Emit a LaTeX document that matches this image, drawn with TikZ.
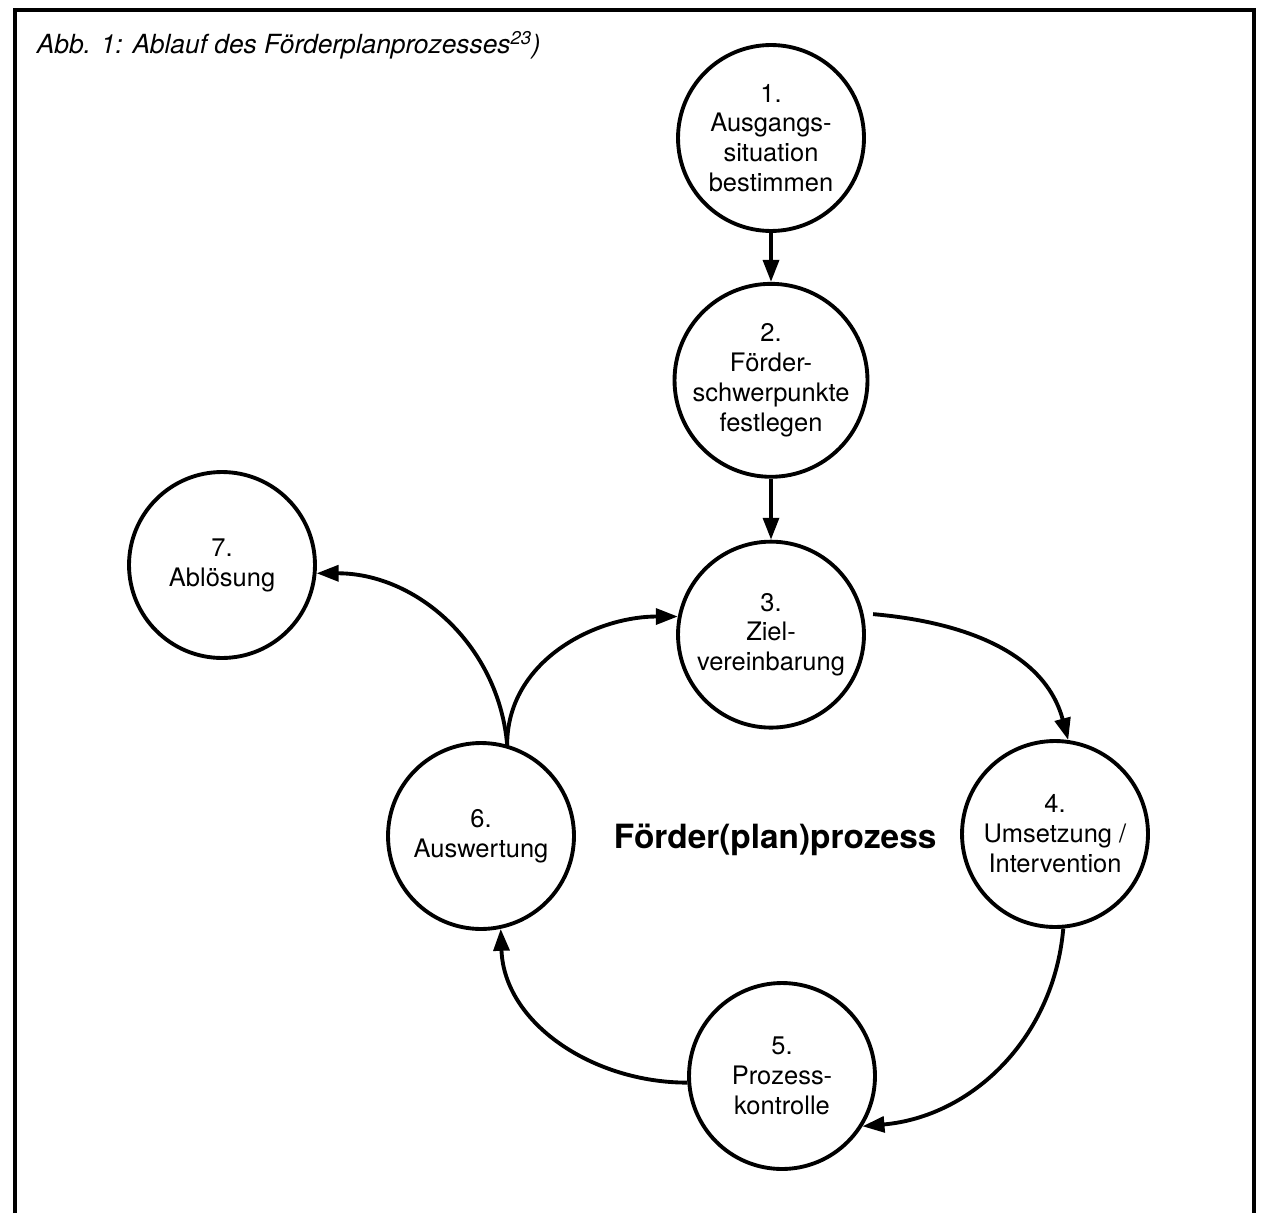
\documentclass[tikz,border=0pt]{standalone}
\usepackage{fontspec}
\setmainfont{TeX Gyre Heros}
\usepackage{tikz}
\usetikzlibrary{
    arrows.meta,
    positioning
}
\tikzset{
    flowtip /.tip = {Triangle[length=12.5pt, width=9pt]}
  }
\tikzset{
    stepcircle/.style = {circle, draw, line width=2.2pt,
      minimum size=3.72cm, inner sep=0pt, align=center,
      font=\fontsize{14.5pt}{17pt}\selectfont}
  }

\begin{document}
\begin{tikzpicture}[x=0.02cm, y=-0.02cm, line width=2.2pt, >=flowtip]

\useasboundingbox (0,0) rectangle (1263,1213);

% frame, open at the bottom
\draw (15,1213) |- (1254,10) -- (1254,1213);

\node[anchor=base west, inner sep=0pt,
      font=\fontsize{15pt}{18pt}\selectfont\itshape]
  at (35,54) (caption)
  {Abb. 1: Ablauf des Förderplanprozesses\textsuperscript{23})};

\node[stepcircle] at (771,138) (ausgang)
  {1.\\Ausgangs-\\situation\\bestimmen};

\node[stepcircle, below=0.98cm of ausgang] (schwerpunkte)
  {2.\\Förder-\\schwerpunkte\\festlegen}
  edge[<-] (ausgang);

\node[stepcircle, below=1.22cm of schwerpunkte] (ziel)
  {3.\\Ziel-\\vereinbarung}
  edge[<-] (schwerpunkte);

\node[stepcircle] at (1055,834) (umsetzung)
  {4.\\Umsetzung /\\Intervention};

\node[stepcircle] at (782,1076) (kontrolle)
  {5.\\Prozess-\\kontrolle};

\node[stepcircle] at (481,836) (auswertung)
  {6.\\Auswertung};

\node[stepcircle] at (222,565) (abloesung)
  {7.\\Ablösung};

\node[anchor=west, inner sep=0pt,
      font=\fontsize{19pt}{23pt}\selectfont\bfseries]
  at (612,840) (prozess) {Förder(plan)prozess};

% the cycle
\draw[->, shorten <=5.5pt] (ziel.13) to[out=-5, in=105] (umsetzung.82);
\draw[->] (umsetzung.-85) to[out=-95, in=5] (kontrolle.-32);
\draw[->] (kontrolle.184) to[out=180, in=-88] (auswertung.-78);
\draw[->] (auswertung.74) to[out=90, in=180] (ziel.169);
\draw[->] (auswertung.74) to[out=95, in=0] (abloesung.-5);

\end{tikzpicture}
\end{document}
